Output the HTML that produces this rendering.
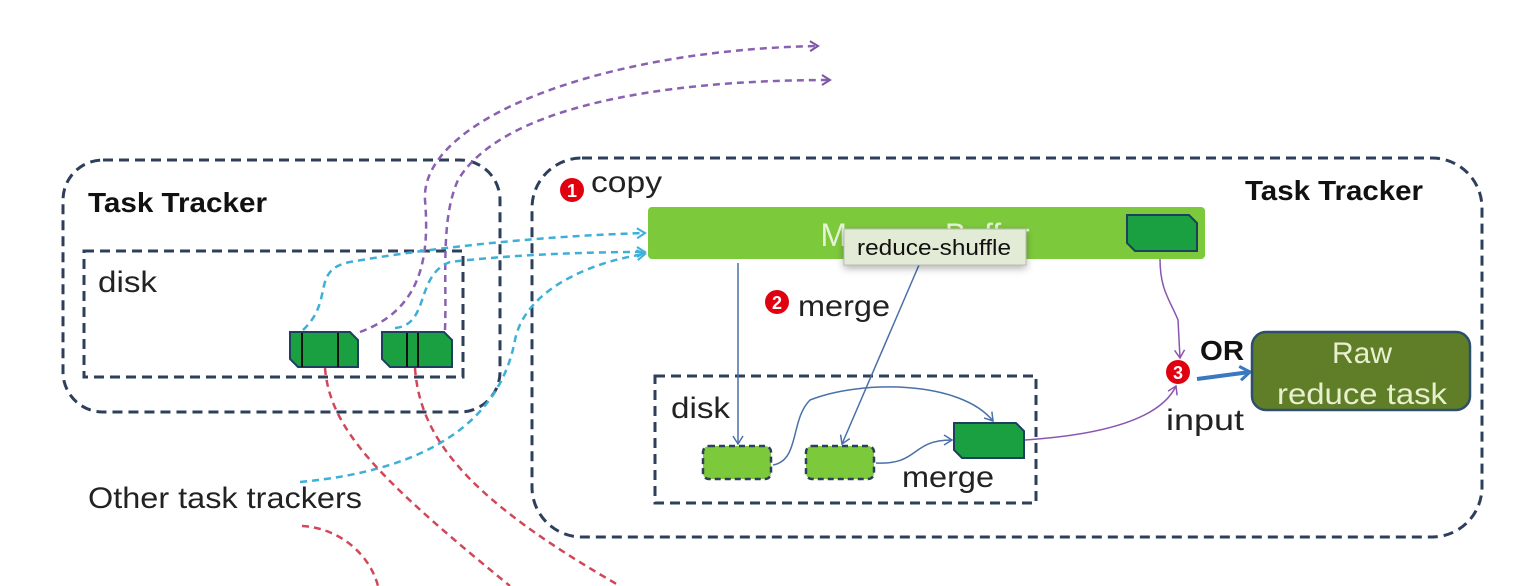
<!DOCTYPE html>
<html><head><meta charset="utf-8"><style>
html,body{margin:0;padding:0;background:#fff;}
svg{display:block;font-family:"Liberation Sans",sans-serif;}
</style></head><body>
<svg width="1534" height="586" viewBox="0 0 1534 586" xmlns="http://www.w3.org/2000/svg">
<defs>
<marker id="ap" markerWidth="12" markerHeight="12" refX="9" refY="6" orient="auto" markerUnits="userSpaceOnUse"><path d="M1,1 L9,6 L1,11" fill="none" stroke="#7a55a5" stroke-width="2"/></marker>
<marker id="ab" markerWidth="12" markerHeight="12" refX="9" refY="6" orient="auto" markerUnits="userSpaceOnUse"><path d="M1,1 L9,6 L1,11" fill="none" stroke="#3cb0d8" stroke-width="2"/></marker>
<marker id="an" markerWidth="12" markerHeight="12" refX="9" refY="6" orient="auto" markerUnits="userSpaceOnUse"><path d="M1,1 L9,6 L1,11" fill="none" stroke="#4a70a8" stroke-width="1.5"/></marker>
<marker id="av" markerWidth="12" markerHeight="12" refX="9" refY="6" orient="auto" markerUnits="userSpaceOnUse"><path d="M1,1 L9,6 L1,11" fill="none" stroke="#8a55b0" stroke-width="1.5"/></marker>
<marker id="abb" markerWidth="14" markerHeight="16" refX="11" refY="8" orient="auto" markerUnits="userSpaceOnUse"><path d="M1,1 L11,8 L1,15" fill="none" stroke="#3a78c0" stroke-width="3"/></marker>
<filter id="sh" x="-20%" y="-30%" width="140%" height="180%"><feDropShadow dx="0" dy="3" stdDeviation="4" flood-opacity="0.3"/></filter>
</defs>

<!-- Left task tracker -->
<rect x="63" y="160" width="437" height="252" rx="40" fill="none" stroke="#2e3f5c" stroke-width="3" stroke-dasharray="10 6"/>
<text x="88" y="212" font-size="28" font-weight="bold" fill="#111" textLength="179" lengthAdjust="spacingAndGlyphs">Task Tracker</text>
<rect x="84" y="251" width="379" height="126" fill="none" stroke="#2e3f5c" stroke-width="3" stroke-dasharray="10 6"/>
<text x="98" y="292" font-size="30" fill="#222" textLength="59" lengthAdjust="spacingAndGlyphs">disk</text>

<!-- Right task tracker -->
<rect x="532" y="158" width="950" height="379" rx="50" fill="none" stroke="#2e3f5c" stroke-width="3" stroke-dasharray="10 6"/>
<text x="1245" y="200" font-size="28" font-weight="bold" fill="#111" textLength="178" lengthAdjust="spacingAndGlyphs">Task Tracker</text>

<!-- dashed connectors -->
<g fill="none" stroke-width="2.5" stroke-dasharray="7 5">
<path d="M360,332 C420,310 430,260 425,200 C420,120 600,50 818,46" stroke="#8a60b0" marker-end="url(#ap)"/>
<path d="M445,330 C447,280 440,220 458,180 C500,110 650,80 830,80" stroke="#8a60b0" marker-end="url(#ap)"/>
<path d="M303,330 C335,300 310,270 350,262 C430,248 540,236 645,233" stroke="#3cb0d8" marker-end="url(#ab)"/>
<path d="M395,328 C430,325 415,275 450,262 C510,255 580,252 645,252" stroke="#3cb0d8" marker-end="url(#ab)"/>
<path d="M300,482 C430,470 500,420 515,340 C525,290 590,262 645,254" stroke="#3cb0d8" marker-end="url(#ab)"/>
<path d="M325,368 C330,430 380,480 510,586" stroke="#d04858"/>
<path d="M415,368 C420,440 470,500 620,586" stroke="#d04858"/>
<path d="M302,526 C340,528 370,555 378,586" stroke="#d04858"/>
</g>

<!-- left blocks -->
<path d="M290,332 H350 L358,340 V367 H298 L290,359 Z" fill="#1aa040" stroke="#1e4060" stroke-width="2"/>
<line x1="302" y1="333" x2="302" y2="367" stroke="#111" stroke-width="2"/>
<line x1="338" y1="333" x2="338" y2="367" stroke="#111" stroke-width="2"/>
<path d="M382,332 H444 L452,340 V367 H390 L382,359 Z" fill="#1aa040" stroke="#1e4060" stroke-width="2"/>
<line x1="407" y1="333" x2="407" y2="367" stroke="#111" stroke-width="2"/>
<line x1="418" y1="333" x2="418" y2="367" stroke="#111" stroke-width="2"/>

<text x="88" y="508" font-size="30" fill="#222" textLength="274" lengthAdjust="spacingAndGlyphs">Other task trackers</text>

<!-- Memory buffer -->
<rect x="648" y="207" width="557" height="52" rx="4" fill="#7dc93c"/>
<text x="925" y="246" font-size="32" fill="#e6f4d6" text-anchor="middle">Memory Buffer</text>
<path d="M1127,215 H1189 L1197,223 V251 H1135 L1127,243 Z" fill="#1aa040" stroke="#1e4060" stroke-width="2"/>

<!-- badges -->
<g font-size="18" font-weight="bold" fill="#fff" text-anchor="middle">
<circle cx="572" cy="190" r="12" fill="#e00010"/><text x="572" y="197">1</text>
<circle cx="777" cy="302" r="12" fill="#e00010"/><text x="777" y="309">2</text>
<circle cx="1178" cy="372" r="12" fill="#e00010"/><text x="1178" y="379">3</text>
</g>
<text x="591" y="192" font-size="30" fill="#222" textLength="71" lengthAdjust="spacingAndGlyphs">copy</text>
<text x="798" y="316" font-size="30" fill="#222" textLength="92" lengthAdjust="spacingAndGlyphs">merge</text>

<!-- inner disk -->
<rect x="655" y="376" width="381" height="127" fill="none" stroke="#2e3f5c" stroke-width="3" stroke-dasharray="10 6"/>
<text x="671" y="418" font-size="30" fill="#222" textLength="59" lengthAdjust="spacingAndGlyphs">disk</text>
<rect x="703" y="446" width="68" height="33" rx="6" fill="#7dc93c" stroke="#2e3f5c" stroke-width="2.5" stroke-dasharray="6 4"/>
<rect x="806" y="446" width="68" height="33" rx="6" fill="#7dc93c" stroke="#2e3f5c" stroke-width="2.5" stroke-dasharray="6 4"/>
<path d="M954,423 H1016 L1024,431 V458 H962 L954,450 Z" fill="#1aa040" stroke="#1e4060" stroke-width="2"/>
<text x="902" y="487" font-size="30" fill="#222" textLength="92" lengthAdjust="spacingAndGlyphs">merge</text>

<!-- solid connectors -->
<g fill="none" stroke-width="1.5">
<path d="M738,263 V444" stroke="#4a70a8" marker-end="url(#an)"/>
<path d="M919,265 L842,444" stroke="#4a70a8" marker-end="url(#an)"/>
<path d="M773,465 C800,460 790,420 810,400 C860,380 960,380 993,421" stroke="#4a70a8" marker-end="url(#an)"/>
<path d="M876,463 C920,465 910,440 952,440" stroke="#4a70a8" marker-end="url(#an)"/>
<path d="M1160,259 C1160,290 1170,300 1178,320 L1180,358" stroke="#8a55b0" marker-end="url(#av)"/>
<path d="M1025,440 C1100,435 1160,420 1176,386" stroke="#8a55b0" marker-end="url(#av)"/>
</g>
<path d="M1197,379 L1250,372" stroke="#3a78c0" stroke-width="4" fill="none" marker-end="url(#abb)"/>
<text x="1200" y="360" font-size="28" font-weight="bold" fill="#111" textLength="44" lengthAdjust="spacingAndGlyphs">OR</text>
<text x="1166" y="430" font-size="30" fill="#222" textLength="78" lengthAdjust="spacingAndGlyphs">input</text>

<!-- Raw reduce task -->
<rect x="1252" y="332" width="218" height="78" rx="14" fill="#5f7e27" stroke="#2e4e6e" stroke-width="2.5"/>
<text x="1362" y="363" font-size="30" fill="#e8f0d0" text-anchor="middle">Raw</text>
<text x="1277" y="404" font-size="30" fill="#e8f0d0" textLength="170" lengthAdjust="spacingAndGlyphs">reduce task</text>

<!-- tooltip -->
<rect x="844" y="229" width="182" height="36" fill="#e2ebd5" stroke="#bbb" stroke-width="1" filter="url(#sh)"/>
<text x="857" y="255" font-size="22" fill="#111" textLength="154" lengthAdjust="spacingAndGlyphs">reduce-shuffle</text>
</svg>
</body></html>
